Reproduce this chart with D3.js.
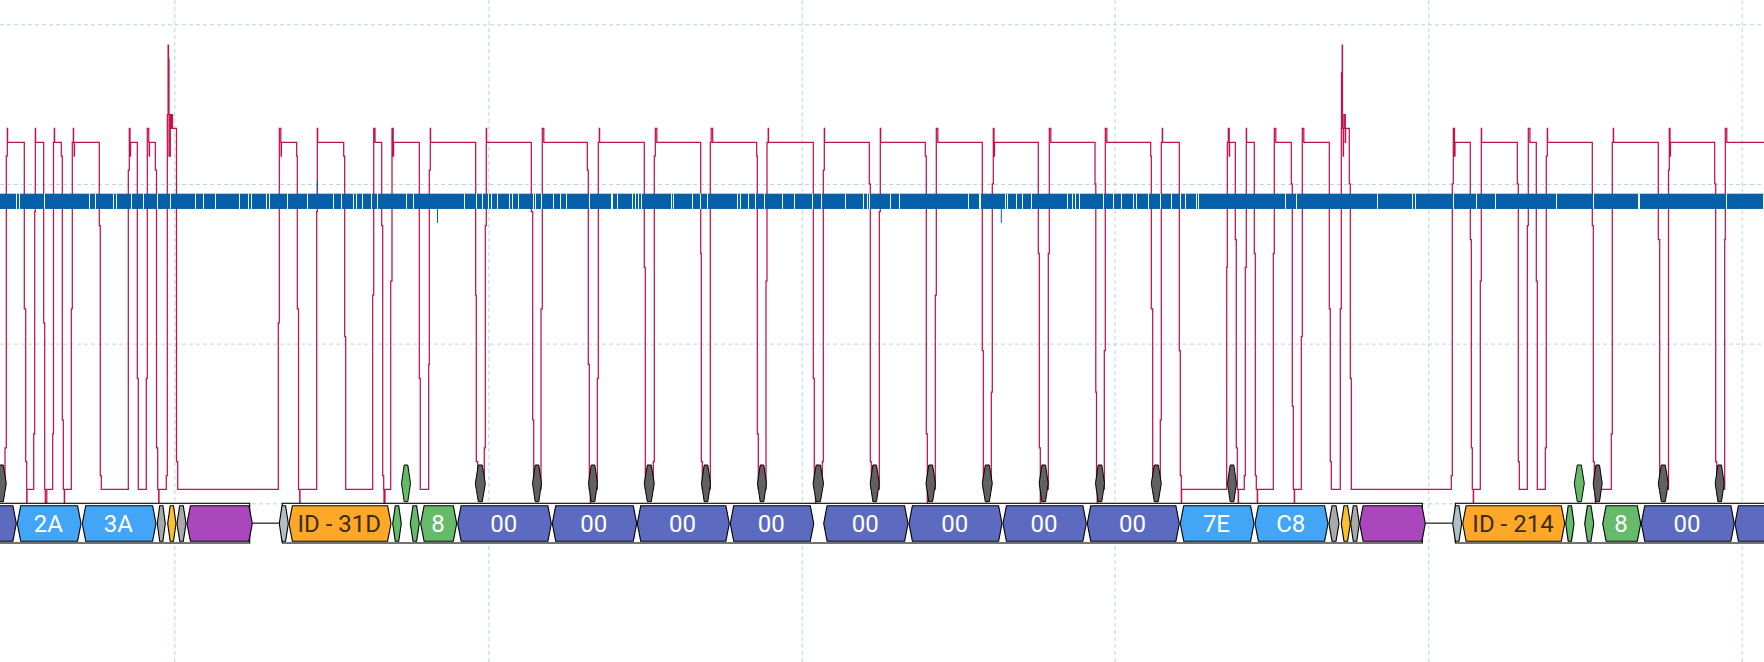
<!DOCTYPE html>
<html>
<head>
<meta charset="utf-8">
<title>Bus decode</title>
<script src="https://d3js.org/d3.v7.min.js"></script>
<style>
  html, body { margin: 0; padding: 0; background: #fff; }
  svg { display: block; }
</style>
</head>
<body>
<svg id="chart" width="1764" height="662"></svg>
<script>
// grid positions (time in samples, level in adc counts)
var gridTimes = [174.3, 488.3, 801.7, 1114.6, 1428.3, 1741.7];
var gridLevels = [-1, 10.5, 22, 33.5];

// analog trace: at each time the signal jumps to the level
var traceSteps = [
  [-5,0],[5,3],[6.3,24],[7.3,26],[7.6,25],[24.3,13],[25.7,2],[26.7,-1],[27,0],
  [33.7,4],[34.7,20],[35.3,26],[35.6,25],[43.7,12],[44.7,0],[45.3,-1],[46.8,0],
  [52.7,4],[53.5,25],[54.3,26],[54.6,25],[61.3,24],[62.3,5],[63.3,0],[64.3,-1],[64.6,0],
  [71.3,13],[72.3,25],[73.3,26],[73.6,25],[74.2,24],[74.5,25],[99.3,19],[100.3,1],[101.3,0],
  [128.3,23],[129.3,26],[130,24],[130.6,25],[137.3,8],[138.3,0],
  [146.3,8],[147.3,26],[148.8,25],[149.2,24],[149.5,25],[155.3,23],[156.5,3],[157.7,0],[158.7,-1],[159,0],
  [166.3,1],[167.3,27],[168.1,32],[168.5,31],[169,24],[170.3,27],[171,26],[171.3,27],[172.5,26],[176.5,2],[177.7,0],
  [278.3,12],[279.3,26],[280.8,25],[281.1,24],[281.4,25],[296.7,24],[297.3,13],[298.5,0],[299.7,-1],[300,0],
  [316.7,20],[317.3,26],[317.7,25],[343.7,24],[344.7,11],[345.7,0],
  [372.7,14],[373.7,26],[375,25],[381.7,19],[382.7,1],[383.7,0],[384,-1],[385,0],
  [390.7,15],[392,26],[393.2,24],[393.6,25],[419.3,8],[420.3,0],
  [428.7,9],[429.3,23],[430.3,26],[430.6,25],[475.7,14],[476.3,2],[477.7,0],
  [484.3,3],[485.3,19],[486.3,26],[486.6,25],[531.3,20],[532.7,5],[533.7,0],
  [541,13],[542.3,26],[543.8,25],[587.3,23],[588.3,9],[589.3,0],[590.3,-1],[590.6,0],
  [597.3,8],[598.3,25],[599.3,26],[599.6,25],[644.3,16],[645.3,0],
  [653.3,2],[654.3,24],[655.3,26],[656.8,25],[700.7,17],[701.3,2],[702.3,0],
  [710.3,25],[711.2,26],[712.7,25],[756.7,24],[757.3,4],[758.3,0],
  [766,15],[767,25],[768.2,26],[768.5,25],[813.3,8],[814.3,0],[815.5,-1],[815.8,0],
  [822.3,2],[823.3,23],[824.3,26],[824.6,25],[869.3,22],[870.3,2],[871.3,0],
  [879.3,20],[880.3,26],[880.7,25],[925.3,24],[926.3,4],[927.3,-1],[927.7,0],
  [935.3,14],[936.3,26],[937.8,25],[982.3,10],[983.3,0],
  [991.3,7],[992.3,22],[993.3,26],[994,24],[994.5,25],[1038.3,17],[1039.3,3],[1040.3,-1],[1040.6,0],
  [1048.3,17],[1049.3,26],[1050.8,25],[1095,22],[1095.8,7],[1096.5,0],[1097.2,-1],[1097.5,0],
  [1104.3,10],[1105.3,26],[1106.8,25],[1150.7,24],[1151.3,13],[1152.7,0],
  [1160.3,5],[1161.3,25],[1162.3,26],[1162.6,25],[1179.3,10],[1180.3,1],[1181.3,-1],[1181.6,0],
  [1226.7,16],[1227.3,25],[1228.3,26],[1229.2,24],[1229.6,25],[1235.3,18],[1236.3,3],[1237.3,0],[1238.2,-1],[1238.5,0],
  [1244.3,1],[1245.3,16],[1246.3,26],[1246.6,25],[1254.3,17],[1255.3,1],[1256.3,0],[1257.3,-1],[1257.6,0],
  [1273.3,17],[1274.3,26],[1275.8,25],[1291.3,22],[1292.3,6],[1293.3,0],[1294.3,-1],[1294.6,0],
  [1301.3,11],[1302.3,26],[1303.8,25],[1329.3,13],[1330.3,2],[1331.3,0],
  [1340.3,13],[1341.3,26],[1341.5,30],[1342.2,32],[1342.5,26],[1343.2,24],[1343.5,26],[1344,27],[1345.3,25],[1345.6,26],[1349.3,22],[1350.3,8],[1351.3,0],
  [1451.3,1],[1452.3,22],[1453.3,26],[1454.5,24],[1455,25],[1470.3,18],[1471.3,3],[1472.3,0],[1473.3,-1],[1473.6,0],
  [1480.3,15],[1481.3,26],[1481.6,25],[1517.3,22],[1518.3,2],[1519.3,0],
  [1527.3,19],[1528.3,26],[1529.9,25],[1536.3,15],[1537.3,0],
  [1545.3,3],[1546.3,24],[1547.3,26],[1547.6,25],[1592.3,19],[1593.3,2],[1594.3,0],[1595.3,-1],[1595.6,0],
  [1611.3,4],[1612.3,25],[1613.3,26],[1613.6,25],[1658.3,18],[1659.7,0],
  [1668.5,23],[1669.3,26],[1670,24],[1670.5,25],[1714.7,22],[1715.7,2],[1716.7,0],
  [1724.7,18],[1725.3,26],[1726.8,25],[1770,25]
];

// digital band: level limits, times where it drops out, stray ticks
var bandLevels = [20.2, 21.3];
var bandGaps = [
  16.3,19.3,44.3,89.3,95.3,113.3,116.3,131.3,143.3,157.3,170.3,195.3,203.3,215.3,239.3,248.3,251.3,
  266.3,269.3,287.3,307.3,333.3,341.3,353.3,356.3,362.3,371.3,377.3,406.7,413.3,
  464.3,476.3,482.3,488.3,491.3,497.3,509.3,512.3,518.3,533.3,535.3,541.3,553.3,560.3,566.3,589.3,
  611,612,617.3,632.3,635.3,638.3,641.3,671.3,673.3,692.3,700.3,707.3,737.3,740.3,748.3,755.3,764.3,
  782.3,794.3,812.3,821.3,845.3,863.3,867.3,869.3,890.3,899.3,968.3,979.3,980.3,
  1005.3,1007.3,1016.3,1022.3,1031.3,1067.3,1072.3,1075.3,1079.3,1103.3,1113.3,1121.3,1133.3,1136.3,1148.3,
  1160.3,1171.3,1180.3,1185.3,1196.3,1198.3,1285.3,1296.3,1377.3,1412.3,1415.3,
  1453.3,1476.3,1495.3,1556.3,1593.3,1638,1639,1726.3,1763.3
];
var tickUpTimes = [317.3];
var tickDownTimes = [437.5, 1001.3];

// protocol track
var trackStart = [-10, 282.3, 1455.3];
var trackEnd = [249.7, 1422.3, 1780];
var linkStart = [252.3, 1425.3];
var linkEnd = [279.3, 1452.7];

var segStart = [-40, 17.3, 82.3, 157.3, 167.7, 177, 187, 279.3, 289, 392.7, 410.3, 420.7, 457.7, 552.3, 637.3, 730.3,
  823.7, 909, 1003, 1087.3, 1180.3, 1255, 1329, 1341.3, 1350.7, 1359.7, 1452.7, 1462.7, 1565.7, 1584.7, 1602.7, 1641.3, 1735];
var segEnd = [16.3, 81, 156, 165.3, 176, 186, 252.3, 288.3, 391, 401.3, 419.3, 456.7, 551.3, 636.7, 729.3, 813.7,
  908, 1002, 1086.3, 1179.3, 1254, 1328, 1339, 1350.3, 1359.3, 1425.3, 1461.7, 1564.7, 1574, 1593.7, 1640.7, 1734.3, 1830];
var segLabel = ["", "2A", "3A", "", "", "", "", "", "ID - 31D", "", "", "8", "00", "00", "00", "00",
  "00", "00", "00", "00", "7E", "C8", "", "", "", "", "", "ID - 214", "", "", "8", "00", ""];
var segKind = ["data", "addr", "addr", "ack", "stop", "ack", "crc", "start", "id", "flag", "flag", "dlc", "data", "data", "data", "data",
  "data", "data", "data", "data", "addr", "addr", "ack", "stop", "ack", "crc", "start", "id", "flag", "flag", "dlc", "data", "data"];

// markers floating above the track
var sampleTimes = [1.3, 480.3, 537, 593, 649.3, 706, 762, 818.3, 874.7, 930.7, 987.3, 1043.7, 1100, 1156.3, 1232, 1597.7, 1663.3, 1719.7];
var sampleWidths = [10, 10, 9, 9, 10, 9, 9, 10.5, 9, 9.5, 10, 9, 9, 10, 9, 9, 10, 9];
var flagTimes = [406, 1579.3];
var flagWidths = [9, 10];

var width = 1764, height = 662;
var trackTop = 503.3, trackBottom = 543, segTop = 505.8, segBottom = 541.2;
var markTop = 465, markBottom = 501.7;

var x = d3.scaleLinear().domain([0, 1764]).range([0, width]);
var y = d3.scaleLinear().domain([-1, 33.5]).range([503.3, 24.3]);
var kindColor = d3.scaleOrdinal()
  .domain(["data", "addr", "ack", "stop", "crc", "start", "id", "flag", "dlc"])
  .range(["#5c6bc0", "#42a5f5", "#a9a9a9", "#fbc02d", "#ab47bc", "#b0bec5", "#ffa726", "#66bb6a", "#66bb6a"]);

var svg = d3.select("#chart");
svg.append("rect").attr("width", width).attr("height", height).attr("fill", "#fff");

// grid from axes with long ticks
var gridX = svg.append("g").attr("class", "grid")
  .call(d3.axisBottom(x).tickValues(gridTimes).tickSize(height).tickFormat(""));
var gridY = svg.append("g").attr("class", "grid")
  .call(d3.axisLeft(y).tickValues(gridLevels).tickSize(-width).tickFormat(""));
svg.selectAll(".grid .domain").remove();
svg.selectAll(".grid line")
  .attr("stroke", "#b5d8dc")
  .attr("stroke-width", 1)
  .attr("stroke-dasharray", "4,3");

// red trace
var traceLine = d3.line()
  .x(function(d) { return x(d[0]); })
  .y(function(d) { return y(d[1]); })
  .curve(d3.curveStepAfter);
svg.append("path")
  .datum(traceSteps)
  .attr("d", traceLine)
  .attr("fill", "none")
  .attr("stroke", "#c2124a")
  .attr("stroke-width", 1.25);

// blue band, gaps and stray ticks
var bandColor = "#0560a9";
svg.append("rect")
  .attr("x", x(0)).attr("width", x(1764) - x(0))
  .attr("y", y(bandLevels[1])).attr("height", y(bandLevels[0]) - y(bandLevels[1]))
  .attr("fill", bandColor);
svg.selectAll(".gap").data(bandGaps).enter().append("line")
  .attr("class", "gap")
  .attr("x1", function(d) { return Math.floor(x(d)) + 0.5; }).attr("x2", function(d) { return Math.floor(x(d)) + 0.5; })
  .attr("y1", y(bandLevels[1])).attr("y2", y(bandLevels[0]))
  .attr("stroke", "#f2fbfb").attr("stroke-width", 1);
svg.selectAll(".tickUp").data(tickUpTimes).enter().append("line")
  .attr("class", "tickUp")
  .attr("x1", function(d) { return x(d); }).attr("x2", function(d) { return x(d); })
  .attr("y1", y(bandLevels[1])).attr("y2", y(bandLevels[1] + 1))
  .attr("stroke", bandColor).attr("stroke-width", 1);
svg.selectAll(".tickDown").data(tickDownTimes).enter().append("line")
  .attr("class", "tickDown")
  .attr("x1", function(d) { return x(d); }).attr("x2", function(d) { return x(d); })
  .attr("y1", y(bandLevels[0])).attr("y2", y(bandLevels[0] - 1))
  .attr("stroke", bandColor).attr("stroke-width", 1);

// track background with top and bottom rule
trackStart.forEach(function(s, i) {
  svg.append("rect")
    .attr("x", x(s)).attr("width", x(trackEnd[i]) - x(s))
    .attr("y", trackTop).attr("height", trackBottom - trackTop)
    .attr("fill", "#fff").attr("stroke", "#000").attr("stroke-width", 1.1);
});
linkStart.forEach(function(s, i) {
  svg.append("line")
    .attr("x1", x(s)).attr("x2", x(linkEnd[i]))
    .attr("y1", (trackTop + trackBottom) / 2).attr("y2", (trackTop + trackBottom) / 2)
    .attr("stroke", "#000").attr("stroke-width", 1.1);
});

// hexagon with slightly bowed ends
function blockPath(x0, x1, top, bottom) {
  var w = x1 - x0, a = Math.min(3.4, w * 0.3), mid = (top + bottom) / 2, h = bottom - top;
  return d3.line()([
    [x0 + a, top], [x1 - a, top], [x1 - a * 0.4, top + h * 0.3], [x1, mid],
    [x1 - a * 0.4, bottom - h * 0.3], [x1 - a, bottom], [x0 + a, bottom],
    [x0 + a * 0.4, bottom - h * 0.3], [x0, mid], [x0 + a * 0.4, top + h * 0.3]
  ]) + "Z";
}

var segs = segStart.map(function(s, i) {
  return { start: s, end: segEnd[i], label: segLabel[i], kind: segKind[i] };
});
svg.selectAll(".seg").data(segs).enter().append("path")
  .attr("class", "seg")
  .attr("d", function(d) { return blockPath(x(d.start), x(d.end), segTop, segBottom); })
  .attr("fill", function(d) { return kindColor(d.kind); })
  .attr("stroke", "#000").attr("stroke-width", 1.1);
svg.selectAll(".segLabel").data(segs.filter(function(d) { return d.label; })).enter().append("text")
  .attr("class", "segLabel")
  .attr("x", function(d) { return x((d.start + d.end) / 2) - 0.7; })
  .attr("y", (segTop + segBottom) / 2)
  .attr("dy", "0.36em")
  .attr("text-anchor", "middle")
  .attr("font-family", "Roboto, sans-serif")
  .attr("font-size", 24)
  .attr("fill", function(d) { return d.kind == "id" ? "#3d2c14" : "#fff"; })
  .text(function(d) { return d.label; });

// floating markers
function addMarks(times, widths, color) {
  svg.selectAll(null).data(times).enter().append("path")
    .attr("d", function(d, i) {
      return blockPath(x(d) - widths[i] / 2, x(d) + widths[i] / 2, markTop, markBottom);
    })
    .attr("fill", color)
    .attr("stroke", "#000").attr("stroke-width", 1);
}
addMarks(sampleTimes, sampleWidths, "#616161");
addMarks(flagTimes, flagWidths, "#66bb6a");
</script>
</body>
</html>
